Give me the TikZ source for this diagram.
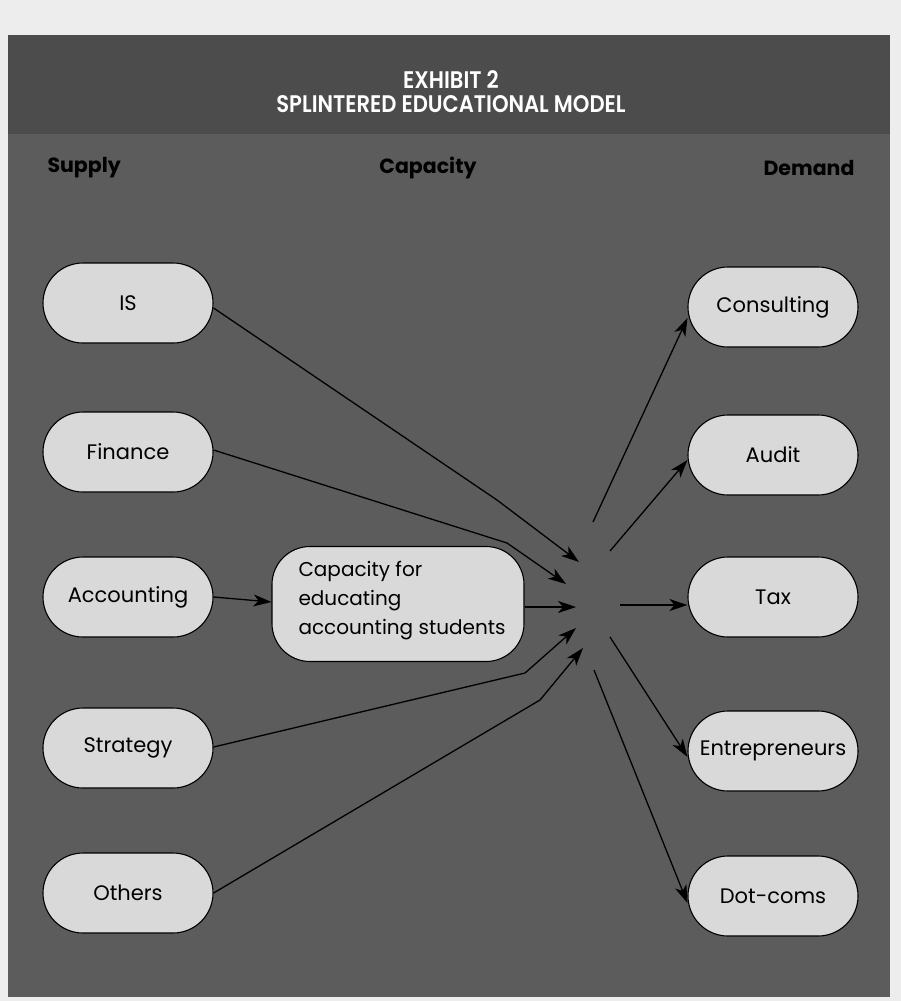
\documentclass[tikz,border=0pt]{standalone}
\usepackage{fontspec}
\setmainfont{Poppins}
\newfontfamily\titlefont[FakeStretch=0.88]{Poppins SemiBold}
\newfontfamily\boxfont{Poppins}
\usetikzlibrary{arrows.meta,calc}
\definecolor{paper}{HTML}{EDEDED}
\definecolor{panel}{HTML}{5C5C5C}
\definecolor{headband}{HTML}{4C4C4C}
\definecolor{pill}{HTML}{D9D9D9}
\tikzset{
  pillbox/.style={draw=black, line width=1.1pt, fill=pill, rounded corners=40pt,
    minimum width=170pt, minimum height=80pt, inner sep=0pt,
    font=\boxfont\fontsize{21}{25}\selectfont},
  capbox/.style={draw=black, line width=1.1pt, fill=pill, rounded corners=38pt,
    minimum width=252pt, minimum height=115pt, inner sep=0pt},
  heading/.style={font=\boxfont\bfseries\fontsize{20.5}{24}\selectfont, text=black},
  arr/.style={line width=1.3pt, draw=black, -{Stealth[length=18pt,width=12pt,inset=5pt]}},
}
\begin{document}
\begin{tikzpicture}[x=1pt,y=-1pt]
\useasboundingbox (0,0) rectangle (901,1001);
\fill[paper] (0,0) rectangle (901,1001);
\fill[panel] (8,35) rectangle (890,997);
\fill[headband] (8,35) rectangle (890,133);
\draw[line width=1.2pt, black!70] (8,133) -- (890,133);

\node[text=white, font=\titlefont\fontsize{24}{24}\selectfont, align=center] (title) at (451,92)
  {EXHIBIT 2\\SPLINTERED EDUCATIONAL MODEL};

\node[heading, anchor=west] (hsup) at (44,168) {Supply};
\node[heading] (hcap) at (428,168) {Capacity};
\node[heading, anchor=east] (hdem) at (858,168) {Demand};

% supply
\node[pillbox] (is)  at (128,303) {IS};
\node[pillbox] (fin) at (128,452) {Finance};
\node[pillbox] (acc) at (128,597) {Accounting};
\node[pillbox] (str) at (128,748) {Strategy};
\node[pillbox] (oth) at (128,893) {Others};

% capacity
\node[capbox] (cap) at (398,604) {};
\node[anchor=west, font=\boxfont\fontsize{20}{29}\selectfont, align=left] (captext) at (295,601)
  {Capacity for\\educating\\accounting students};

% demand
\node[pillbox] (con) at (773,307) {Consulting};
\node[pillbox] (aud) at (773,455) {Audit};
\node[pillbox] (tax) at (773,597) {Tax};
\node[pillbox] (ent) at (773,751) {Entrepreneurs};
\node[pillbox] (dot) at (773,896) {Dot-coms};

% hub coordinates
\coordinate (tIS)  at (579,562);
\coordinate (bIS)  at (497,500);
\coordinate (tFin) at (566,584);
\coordinate (bFin) at (507,543);
\coordinate (tCap) at (576,607);
\coordinate (tStr) at (576,628);
\coordinate (bStr) at (525,673);
\coordinate (tOth) at (583,648);
\coordinate (bOth) at (540,700);

\coordinate (sCon) at (593,522);
\coordinate (sAud) at (610,551);
\coordinate (sTax) at (620,605);
\coordinate (sEnt) at (610,637);
\coordinate (sDot) at (594,670);

\draw[arr] ($(is.east)+(0,5)$) -- (bIS) -- (tIS);
\draw[arr] ($(fin.east)+(0,-2)$) -- (bFin) -- (tFin);
\draw[arr] (acc.east) -- ($(cap.west)+(0,-2)$);
\draw[arr] ($(cap.east)+(0,3)$) -- (tCap);
\draw[arr] ($(str.east)+(0,-1)$) -- (bStr) -- (tStr);
\draw[arr] (oth.east) -- (bOth) -- (tOth);

\draw[arr] (sCon) -- ($(con.west)+(0,11)$);
\draw[arr] (sAud) -- ($(aud.west)+(0,5)$);
\draw[arr] (sTax) -- ($(tax.west)+(0,8)$);
\draw[arr] (sEnt) -- ($(ent.west)+(0,6)$);
\draw[arr] (sDot) -- ($(dot.west)+(0,7)$);
\end{tikzpicture}
\end{document}
